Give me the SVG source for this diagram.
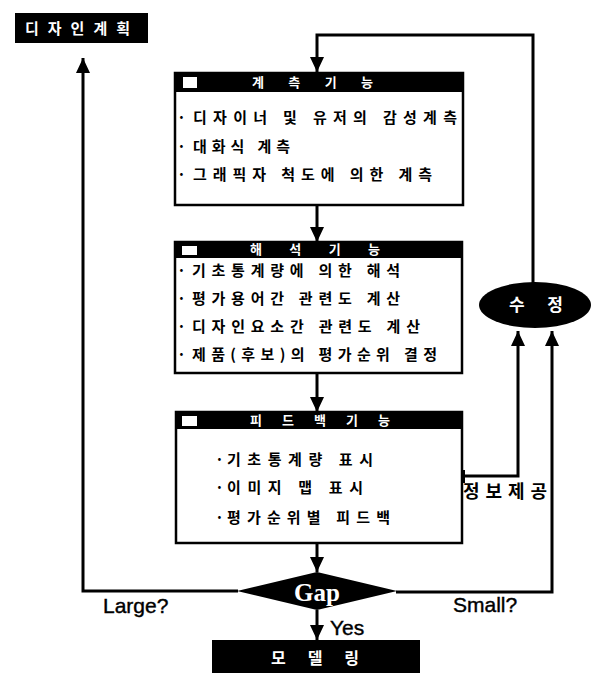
<svg xmlns="http://www.w3.org/2000/svg" width="601" height="673" viewBox="0 0 601 673">
<style>
.kr{font-family:"Noto Sans CJK KR","Noto Sans",sans-serif;font-weight:bold;}
.item{font-size:15px;fill:#000;}
.title{font-size:13px;fill:#fff;}
.wt{fill:#fff;}
.box{fill:#fff;stroke:#000;stroke-width:2.5;}
.bar{fill:#000;}
.sq{fill:#fff;}
.con{fill:none;stroke:#000;stroke-width:3;}
.lat{font-family:"Liberation Sans",Arial,sans-serif;font-size:21px;fill:#000;stroke:#000;stroke-width:0.4;}
</style>
<defs>
<marker id="ah" markerUnits="userSpaceOnUse" markerWidth="16" markerHeight="16" viewBox="0 0 16 16" refX="15" refY="8" orient="auto">
<path d="M0,1 L15,8 L0,15 Z" fill="#000"/>
</marker>
</defs>

<g id="connectors">
<polyline class="con" points="238,591 83,591 83,58" marker-end="url(#ah)"/>
<polyline class="con" points="396,592 552,592 552,331" marker-end="url(#ah)"/>
<polyline class="con" points="462,476 518,476 518,331" marker-end="url(#ah)"/>
<polyline class="con" points="533,283 533,35 317,35 317,72" marker-end="url(#ah)"/>
<line class="con" x1="317" y1="205" x2="317" y2="242" marker-end="url(#ah)"/>
<line class="con" x1="317" y1="373" x2="317" y2="412" marker-end="url(#ah)"/>
<line class="con" x1="317" y1="543" x2="317" y2="572" marker-end="url(#ah)"/>
<line class="con" x1="317" y1="610" x2="317" y2="640" marker-end="url(#ah)"/>
<rect x="455" y="470" width="10" height="13" fill="#000"/>
</g>

<g id="design-plan">
<rect x="15" y="13" width="133" height="30" fill="#000"/>
<text class="kr wt" x="25" y="34" font-size="15" textLength="105" lengthAdjust="spacing">디자인계획</text>
</g>

<g id="measure">
<rect class="box" x="175" y="73" width="288" height="132"/>
<rect class="bar" x="175" y="73" width="288" height="19"/>
<rect class="sq" x="183" y="77" width="14" height="11"/>
<text class="kr title" x="252" y="87" textLength="121" lengthAdjust="spacing">계 측 기 능</text>
<text class="kr item" x="177" y="123">·</text>
<text class="kr item" x="193" y="123" textLength="264" lengthAdjust="spacing">디자이너 및 유저의 감성계측</text>
<text class="kr item" x="177" y="152">·</text>
<text class="kr item" x="193" y="152" textLength="97" lengthAdjust="spacing">대화식 계측</text>
<text class="kr item" x="177" y="180">·</text>
<text class="kr item" x="193" y="180" textLength="239" lengthAdjust="spacing">그래픽자 척도에 의한 계측</text>
</g>

<g id="analysis">
<rect class="box" x="175" y="242" width="287" height="131"/>
<rect class="bar" x="175" y="242" width="287" height="16"/>
<rect class="sq" x="182" y="246" width="15" height="9"/>
<text class="kr title" x="250" y="254" textLength="130" lengthAdjust="spacing">해 석 기 능</text>
<text class="kr item" x="177" y="276">·</text>
<text class="kr item" x="192" y="276" textLength="208" lengthAdjust="spacing">기초통계량에 의한 해석</text>
<text class="kr item" x="177" y="304">·</text>
<text class="kr item" x="192" y="304" textLength="208" lengthAdjust="spacing">평가용어간 관련도 계산</text>
<text class="kr item" x="177" y="332">·</text>
<text class="kr item" x="192" y="332" textLength="228" lengthAdjust="spacing">디자인요소간 관련도 계산</text>
<text class="kr item" x="177" y="360">·</text>
<text class="kr item" x="192" y="360" textLength="245" lengthAdjust="spacing">제품(후보)의 평가순위 결정</text>
</g>

<g id="feedback">
<rect class="box" x="176" y="412" width="286" height="131"/>
<rect class="bar" x="176" y="412" width="286" height="17"/>
<rect class="sq" x="182" y="416" width="15" height="10"/>
<text class="kr title" x="250" y="425" textLength="140" lengthAdjust="spacing">피 드 백 기 능</text>
<text class="kr item" x="215" y="465">·</text>
<text class="kr item" x="227" y="465" textLength="146" lengthAdjust="spacing">기초통계량 표시</text>
<text class="kr item" x="215" y="493">·</text>
<text class="kr item" x="227" y="493" textLength="136" lengthAdjust="spacing">이미지 맵 표시</text>
<text class="kr item" x="215" y="523">·</text>
<text class="kr item" x="227" y="523" textLength="163" lengthAdjust="spacing">평가순위별 피드백</text>
</g>

<g id="modify">
<ellipse cx="535" cy="305" rx="56" ry="23" fill="#000"/>
<text class="kr wt" x="509" y="311" font-size="17" textLength="54" lengthAdjust="spacing">수정</text>
</g>

<g id="info">
<text class="kr" x="463" y="498" font-size="18" textLength="84" lengthAdjust="spacing">정보제공</text>
</g>

<g id="gap">
<polygon points="317,572 397,591 317,610 237,591" fill="#000"/>
<text x="317" y="601" font-family="Liberation Serif,serif" font-weight="bold" font-size="25" fill="#fff" text-anchor="middle">Gap</text>
</g>

<g id="labels">
<text class="lat" x="103" y="613">Large?</text>
<text class="lat" x="453" y="612">Small?</text>
<text class="lat" x="330" y="635">Yes</text>
</g>

<g id="modeling">
<rect x="212" y="640" width="208" height="40" fill="#000"/>
<text class="kr wt" x="271" y="664" font-size="16" textLength="88" lengthAdjust="spacing">모델링</text>
</g>
</svg>
